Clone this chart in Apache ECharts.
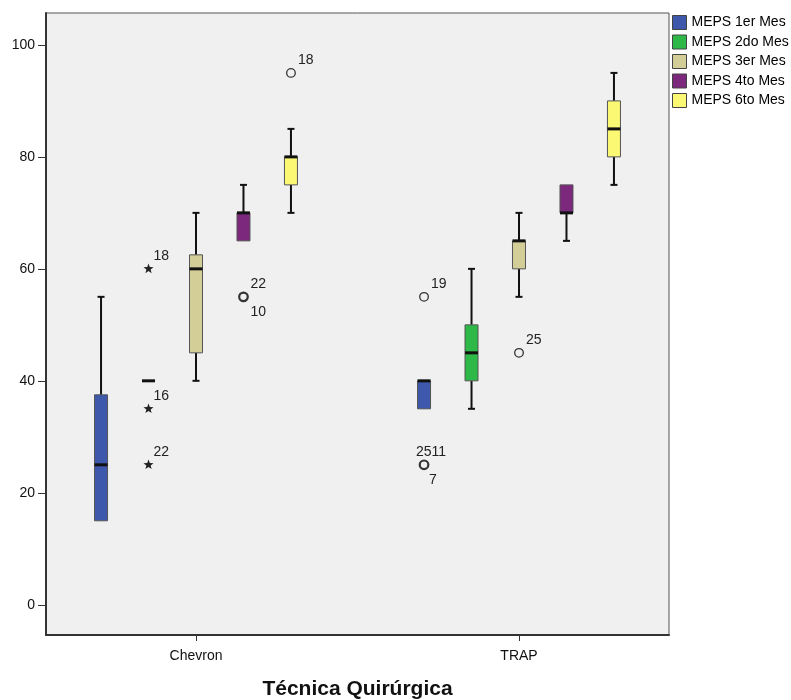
<!DOCTYPE html>
<html>
<head>
<meta charset="utf-8">
<script src="https://cdn.jsdelivr.net/npm/echarts@6/dist/echarts.min.js"></script>
<style>
  html, body { margin: 0; padding: 0; background: #fff; }
  #chart { width: 791px; height: 700px; }
</style>
</head>
<body>
<div id="chart"></div>
<script>
const categories = ['Chevron', 'TRAP'];
const seriesNames = ['MEPS 1er Mes', 'MEPS 2do Mes', 'MEPS 3er Mes', 'MEPS 4to Mes', 'MEPS 6to Mes'];
const colors = ['#3E58AC', '#2EB848', '#D3CE97', '#7C287D', '#FBF873'];
// [min, q1, mediana, q3, max] por técnica
const mes1 = [[15, 15, 25, 37.5, 55], [35, 35, 40, 40, 40]];
const mes2 = [[40, 40, 40, 40, 40], [35, 40, 45, 50, 60]];
const mes3 = [[40, 45, 60, 62.5, 70], [55, 60, 65, 65, 70]];
const mes4 = [[65, 65, 70, 70, 75], [65, 70, 70, 75, 75]];
const mes6 = [[70, 75, 80, 80, 85], [75, 80, 85, 90, 95]];
const yTicks = [0, 20, 40, 60, 80, 100];
// [técnica, serie, valor, tipo, etiqueta arriba, etiqueta abajo]
const outliers = [
  [0, 1, 60, 'extreme', '18', ''],
  [0, 1, 35, 'extreme', '16', ''],
  [0, 1, 25, 'extreme', '22', ''],
  [0, 3, 55, 'outlier', '22', '10'],
  [0, 4, 95, 'outlier', '18', ''],
  [1, 0, 55, 'outlier', '19', ''],
  [1, 0, 25, 'outlier', '2511', '7'],
  [1, 2, 45, 'outlier', '25', ''],
];

const allBoxes = [mes1, mes2, mes3, mes4, mes6];
const FONT = '"Liberation Sans", Arial, sans-serif';
const offset = (i) => (i - 2) * 0.147;
const halfW = 6.5;

const myChart = echarts.init(document.getElementById('chart'));

const renderBox = (color) => (params, api) => {
  const x = api.value(0);
  const p = [1, 2, 3, 4, 5].map((d) => api.coord([x, api.value(d)]));
  const cx = p[0][0];
  const yMin = p[0][1], yQ1 = p[1][1], yMed = p[2][1], yQ3 = p[3][1], yMax = p[4][1];
  const children = [];
  const ln = (x1, y1, x2, y2, w) => ({
    type: 'line',
    shape: { x1, y1, x2, y2 },
    style: { stroke: '#111', lineWidth: w },
  });
  if (yMax < yQ3 - 0.5) {
    children.push(ln(cx, yQ3, cx, yMax, 2));
    children.push(ln(cx - 3.5, yMax, cx + 3.5, yMax, 2));
  }
  if (yMin > yQ1 + 0.5) {
    children.push(ln(cx, yQ1, cx, yMin, 2));
    children.push(ln(cx - 3.5, yMin, cx + 3.5, yMin, 2));
  }
  children.push({
    type: 'rect',
    shape: { x: cx - halfW, y: yQ3, width: halfW * 2, height: yQ1 - yQ3 },
    style: { fill: color, stroke: '#555', lineWidth: 1 },
  });
  children.push(ln(cx - halfW, yMed, cx + halfW, yMed, 3));
  return { type: 'group', children };
};

const renderOutlier = (params, api) => {
  const o = outliers[params.dataIndex];
  const pt = api.coord([api.value(0), api.value(1)]);
  const cx = pt[0], cy = pt[1];
  const children = [];
  if (o[3] === 'extreme') {
    const pts = [];
    for (let k = 0; k < 10; k++) {
      const r = k % 2 === 0 ? 5.3 : 2.2;
      const a = -Math.PI / 2 + (k * Math.PI) / 5;
      pts.push([cx + r * Math.cos(a), cy + r * Math.sin(a)]);
    }
    children.push({ type: 'polygon', shape: { points: pts }, style: { fill: '#222' } });
  } else {
    const multi = o[5] !== '' || o[4].length > 2;
    children.push({
      type: 'circle',
      shape: { cx, cy, r: 4.3 },
      style: { fill: 'none', stroke: '#333', lineWidth: multi ? 2.2 : 1.3 },
    });
  }
  const txt = (text, x, y) => ({
    type: 'text',
    x, y,
    style: {
      text, fill: '#222', font: '14px ' + FONT,
      align: 'left', verticalAlign: 'middle',
      textAlign: 'left', textVerticalAlign: 'middle',
    },
  });
  if (o[4]) {
    const dx = o[4].length > 2 ? -8 : (o[3] === 'extreme' ? 5 : 7);
    children.push(txt(o[4], cx + dx, cy - 13));
  }
  if (o[5]) {
    children.push(txt(o[5], cx + (o[4].length > 2 ? 5 : 7), cy + 15));
  }
  return { type: 'group', children };
};

const series = allBoxes.map((boxes, i) => ({
  name: seriesNames[i],
  type: 'custom',
  itemStyle: { color: colors[i] },
  renderItem: renderBox(colors[i]),
  encode: { x: 0, y: [1, 2, 3, 4, 5] },
  data: boxes.map((b, c) => [c + offset(i), ...b]),
  z: 2,
}));
series.push({
  type: 'custom',
  silent: true,
  renderItem: renderOutlier,
  encode: { x: 0, y: 1 },
  data: outliers.map((o) => [o[0] + offset(o[1]), o[2]]),
  z: 3,
});

const option = {
  animation: false,
  textStyle: { fontFamily: FONT },
  grid: {
    left: 46,
    right: 122,
    top: 13,
    bottom: 65,
    outerBoundsMode: 'none',
    containLabel: false,
    show: true,
    backgroundColor: '#F0F0F0',
    borderColor: '#555',
    borderWidth: 1,
  },
  legend: {
    data: seriesNames,
    orient: 'vertical',
    left: 672,
    top: 15,
    padding: 0,
    icon: 'rect',
    itemWidth: 14,
    itemHeight: 14,
    itemGap: 4.5,
    itemStyle: { borderColor: '#444', borderWidth: 1 },
    textStyle: { fontSize: 14, color: '#000', fontFamily: FONT },
    selectedMode: false,
  },
  xAxis: {
    type: 'value',
    min: -0.4644,
    max: 1.4644,
    name: 'Técnica Quirúrgica',
    nameLocation: 'middle',
    nameGap: 44,
    nameTextStyle: { fontSize: 21, fontWeight: 'bold', color: '#111', fontFamily: FONT },
    splitLine: { show: false },
    axisLine: { show: true, onZero: false, lineStyle: { color: '#333', width: 2 } },
    axisTick: { show: true, customValues: [0, 1], length: 6, lineStyle: { color: '#333', width: 1 } },
    axisLabel: {
      customValues: [0, 1],
      formatter: (v) => categories[Math.round(v)],
      color: '#111',
      fontSize: 14,
      margin: 14,
    },
  },
  yAxis: {
    type: 'value',
    min: -5.4,
    max: 105.7,
    splitLine: { show: false },
    axisLine: { show: true, onZero: false, lineStyle: { color: '#333', width: 2 } },
    axisTick: { show: true, customValues: yTicks, length: 8, lineStyle: { color: '#333', width: 1 } },
    axisLabel: { customValues: yTicks, color: '#111', fontSize: 14, margin: 11 },
  },
  series: series,
};
myChart.setOption(option, true);
</script>
</body>
</html>
